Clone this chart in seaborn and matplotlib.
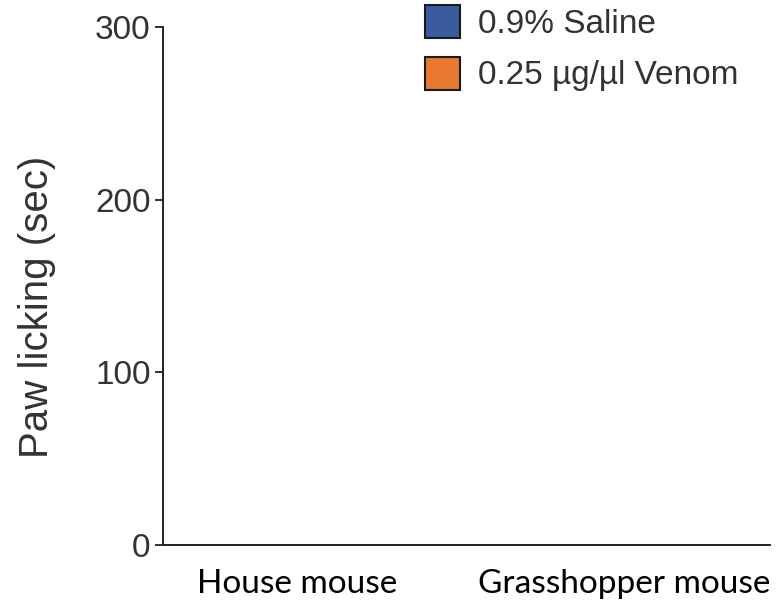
import matplotlib
matplotlib.use("Agg")
import matplotlib.pyplot as plt
import pandas as pd
import seaborn as sns

# data (bars are all at zero in the reference)
species = ["House mouse", "Grasshopper mouse"]
treatments = ["0.9% Saline", "0.25 \u00b5g/\u00b5l Venom"]
saline_sec = [0, 0]
venom_sec = [0, 0]
y_ticks = [0, 100, 200, 300]

colors = ["#3A5BA0", "#E8772F"]
text_color = "#333333"

sns.set_style("ticks")
plt.rcParams["font.family"] = ["Liberation Sans", "DejaVu Sans"]

df = pd.DataFrame({
    "Species": species * 2,
    "Treatment": [treatments[0]] * 2 + [treatments[1]] * 2,
    "Paw licking (sec)": saline_sec + venom_sec,
})

fig = plt.figure(figsize=(7.8, 6.01), dpi=100)
ax = fig.add_axes([0.209, 0.093, 0.778, 0.862])

sns.barplot(data=df, x="Species", y="Paw licking (sec)", hue="Treatment",
            palette=colors, ax=ax, legend=False, errorbar=None)

ax.set_ylim(0, 300)
ax.set_xlim(-0.41, 1.445)
ax.set_yticks(y_ticks)
ax.set_yticklabels([str(t) for t in y_ticks], fontsize=24, color=text_color)
ax.set_xticks([0, 1])
ax.set_xticklabels(species, fontsize=24, color="black", family=["Lato", "DejaVu Sans"])
ax.tick_params(axis="x", length=0, pad=17)
ax.tick_params(axis="y", length=6, width=1.3, color="#222222", pad=3)
ax.set_xlabel("")
ax.set_ylabel("Paw licking (sec)", fontsize=29, color=text_color, labelpad=28, y=0.46)

for side in ["top", "right"]:
    ax.spines[side].set_visible(False)
for side in ["left", "bottom"]:
    ax.spines[side].set_linewidth(1.4)
    ax.spines[side].set_color("#222222")

handles = [plt.Rectangle((0, 0), 1, 1, facecolor=c, edgecolor="#1a1a1a", linewidth=1.5)
           for c in colors]
fig.legend(handles, treatments, loc="upper left", bbox_to_anchor=(0.54, 0.997),
           frameon=False, fontsize=24, handlelength=1.05, handleheight=1.15,
           handletextpad=0.55, labelspacing=0.5, labelcolor=text_color,
           borderaxespad=0, borderpad=0.1)

fig.savefig("out.png", dpi=100)
